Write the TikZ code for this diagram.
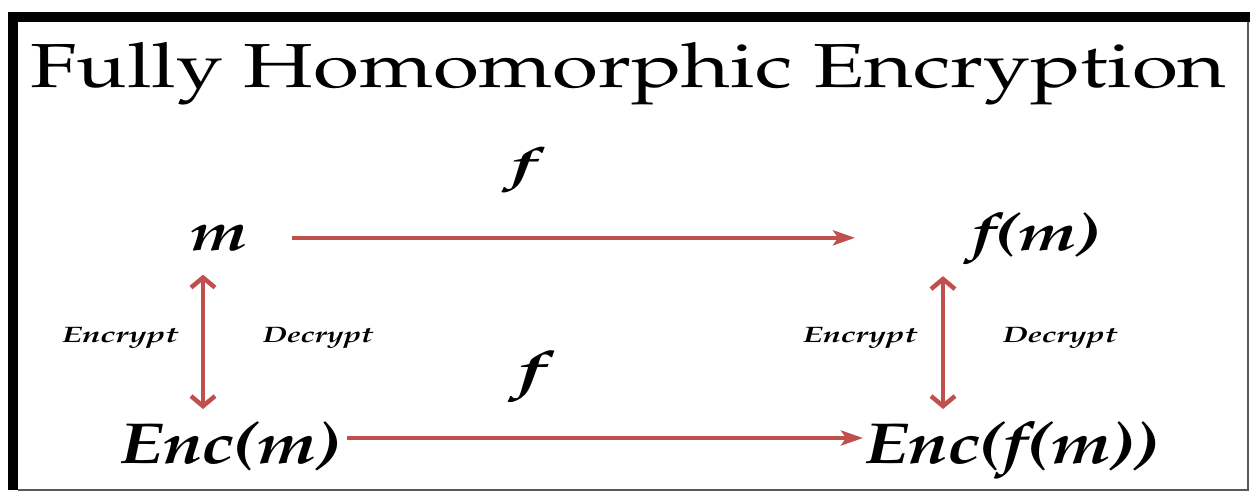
\documentclass[tikz,border=0pt]{standalone}
\usepackage[T1]{fontenc}
\usepackage{mathpazo}
\usepackage{graphicx}
\usetikzlibrary{arrows.meta}
\definecolor{arrred}{RGB}{192,80,77}
\newcommand\fitlbl[3]{\resizebox{#1}{#2}{#3}}
\newcommand\fitlbltot[3]{\resizebox*{#1}{#2}{#3}}
\begin{document}
\begin{tikzpicture}[x=1pt,y=-1pt,
  lbl/.style={inner sep=0pt,outer sep=0pt,font=\bfseries\itshape},
  harrow/.style={draw=arrred,line width=4pt,-{Stealth[length=22pt,width=15pt,inset=5pt]}},
  varrow/.style={draw=arrred,line width=4.5pt,{Straight Barb[length=10pt,width=24pt]}-{Straight Barb[length=10pt,width=24pt]}},
  thinframe/.style={draw=black!65,line width=1.5pt}]
\useasboundingbox (0,0) rectangle (1250,493);
\fill[white] (0,0) rectangle (1250,493);
\fill[black] (8,12) rectangle (1250,22);
\fill[black] (8,12) rectangle (18,490);
\draw[thinframe] (18,490) -- (1248,490) -- (1248,22);
\node[inner sep=0pt,anchor=base west] (title) at (30,87) {\fitlbl{1196pt}{45pt}{Fully Homomorphic Encryption}};
\node[lbl,anchor=base west] (m) at (190,250) {\fitlbl{57pt}{25pt}{m}};
\node[lbl,anchor=base west] (fm) at (972,250) {\fitlbl{128pt}{37pt}{f(m)}};
\node[lbl,anchor=base west] (encm) at (120,463) {\fitlbl{220pt}{41pt}{Enc(m)}};
\node[lbl,anchor=base west] (encfm) at (865,463) {\fitlbl{293pt}{41pt}{Enc(f(m))}};
\node[lbl,anchor=north] (ftop) at (524,148) {\fitlbltot{25pt}{45pt}{f}};
\node[lbl,anchor=north] (fbot) at (532,352) {\fitlbltot{27pt}{51pt}{f}};
\node[lbl,anchor=base west] (encl) at (62,342) {\fitlbl{116pt}{15pt}{Encrypt}};
\node[lbl,anchor=base west] (decl) at (263,342) {\fitlbl{110pt}{15pt}{Decrypt}};
\node[lbl,anchor=base west] (encr) at (803,342) {\fitlbl{114pt}{15pt}{Encrypt}};
\node[lbl,anchor=base west] (decr) at (1003,342) {\fitlbl{114pt}{15pt}{Decrypt}};
\coordinate (lv) at (203,0);
\coordinate (rv) at (943,0);
\draw[harrow,shorten <=45pt,shorten >=117pt] (m.east) -- (m.east -| fm.west);
\draw[harrow,shorten <=7pt,shorten >=2pt] ([yshift=25pt]encm.base east) -- ([yshift=25pt]encfm.base west);
\draw[varrow,shorten <=24pt,shorten >=13pt] (m.south -| lv) -- (encm.north -| lv);
\draw[varrow,shorten <=12pt,shorten >=13pt] (fm.south -| rv) -- (encfm.north -| rv);
\end{tikzpicture}
\end{document}
